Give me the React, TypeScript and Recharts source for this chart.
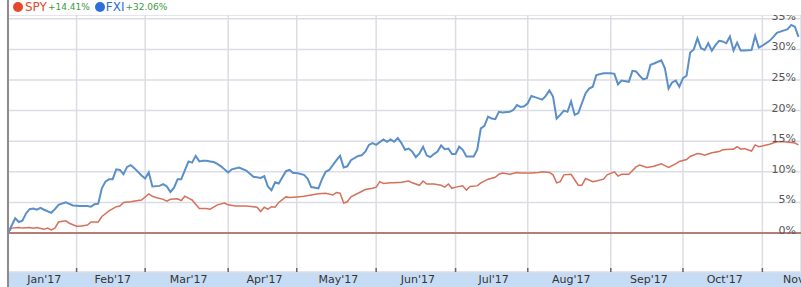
import React from 'react';
import { LineChart, Line, XAxis, YAxis, CartesianGrid, ReferenceLine } from 'recharts';

// x axis is trading days since Jan 3 2017
const monthLabels = ["Jan'17", "Feb'17", "Mar'17", "Apr'17", "May'17", "Jun'17", "Jul'17", "Aug'17", "Sep'17", "Oct'17", "Nov'17"];
const monthStarts = [0, 19, 38, 61, 80, 102, 124, 144, 167, 187, 209];
const monthDays = [19, 19, 23, 19, 22, 22, 20, 23, 20, 22, 21];
const pctTicks = [0, 5, 10, 15, 20, 25, 30, 35];

const fxiDays = [
  0, 2, 3, 4, 5, 6, 7, 8, 9, 10, 12, 13, 14, 16, 18, 20, 22, 23, 24, 25, 26, 27, 28, 29, 30, 31, 32, 33, 34, 35,
  37, 38, 39, 40, 42, 43, 44, 45, 46, 47, 48, 50, 51, 52, 53, 54, 55, 56, 57, 58, 59, 61, 62, 64, 66, 68, 70, 71,
  72, 73, 74, 75, 77, 78, 79, 80, 82, 83, 84, 86, 87, 88, 89, 91, 92, 93, 94, 95, 97, 98, 99, 100, 101, 102, 104,
  105, 106, 107, 108, 109, 110, 111, 112, 113, 114, 115, 116, 117, 118, 119, 120, 121, 122, 123, 124, 125, 126,
  127, 129, 130, 131, 132, 133, 134, 135, 136, 137, 139, 140, 141, 142, 143, 144, 145, 147, 148, 149, 150, 151,
  152, 153, 154, 155, 156, 157, 158, 159, 160, 161, 162, 163, 165, 167, 168, 169, 170, 172, 173, 174, 175, 176,
  177, 178, 179, 181, 182, 183, 184, 185, 186, 187, 188, 189, 190, 191, 192, 193, 194, 195, 196, 197, 198, 199,
  200, 201, 202, 203, 204, 206, 207, 208, 209, 211, 212, 213, 215, 216, 217, 218, 219,
];
const fxiPct = [
  0.0, 2.4, 1.8, 2.0, 3.2, 3.9, 4.0, 3.8, 4.1, 3.8, 3.3, 3.9, 4.6, 5.0, 4.5, 4.4, 4.4, 4.3, 4.7, 4.8, 7.3, 8.4, 8.8, 8.8, 10.4, 10.3, 9.6, 10.8, 11.1, 10.6,
  9.4, 8.9, 9.9, 7.6, 7.7, 8.0, 7.6, 6.7, 7.4, 8.8, 8.8, 11.7, 11.5, 12.6, 11.7, 11.8, 11.8, 11.7, 11.6, 11.3, 10.9, 9.9, 10.4, 10.7, 10.2, 9.2, 9.0, 9.3,
  7.6, 7.0, 8.3, 8.1, 10.1, 10.3, 9.8, 9.8, 9.5, 8.9, 7.5, 7.3, 8.8, 10.0, 10.3, 11.9, 12.6, 10.7, 10.9, 11.9, 12.6, 12.7, 13.3, 14.4, 14.7, 14.4, 15.3,
  14.9, 15.3, 14.9, 15.5, 14.7, 13.6, 13.8, 13.3, 12.4, 13.0, 14.1, 12.7, 12.4, 12.9, 13.3, 14.3, 13.7, 13.8, 12.9, 12.9, 14.1, 13.6,
  12.5, 12.5, 13.6, 17.1, 17.5, 19.0, 18.7, 18.6, 19.8, 19.7, 19.8, 20.1, 20.9, 20.6, 20.7, 21.2, 22.4, 22.0, 21.8, 22.4, 23.3, 22.3,
  18.7, 19.3, 20.0, 19.8, 21.5, 19.3, 19.6, 21.2, 22.8, 23.6, 23.9, 25.8, 26.1, 26.1, 26.0, 24.3, 24.9, 24.7, 26.5, 26.4, 25.7, 25.1,
  25.3, 27.5, 27.7, 28.2, 26.9, 23.6, 24.6, 24.9, 23.9, 25.3, 25.7, 29.5, 30.0, 31.8, 30.2, 29.9, 31.0, 29.8, 30.7, 31.4, 31.3, 31.0,
  32.1, 29.8, 31.1, 29.8, 29.8, 29.9, 32.2, 30.3, 30.6, 31.4, 32.0, 32.7, 33.1, 33.3, 34.0, 33.7, 32.06,
];

const spyDays = [
  0, 1, 3, 4, 6, 7, 8, 10, 11, 12, 13, 14, 16, 17, 19, 20, 22, 23, 25, 26, 28, 30, 31, 32, 34, 36, 37, 39, 40, 41,
  43, 44, 45, 47, 48, 49, 50, 51, 53, 55, 56, 58, 60, 61, 63, 64, 66, 68, 69, 70, 71, 72, 73, 74, 75, 77, 78, 80,
  82, 84, 86, 88, 90, 91, 92, 93, 94, 95, 97, 99, 101, 102, 103, 104, 106, 107, 109, 111, 112, 114, 115, 116, 118,
  120, 121, 122, 123, 124, 126, 127, 128, 130, 131, 133, 135, 136, 137, 139, 141, 142, 143, 145, 147, 148, 150,
  151, 152, 153, 154, 156, 157, 158, 159, 160, 162, 163, 165, 166, 168, 169, 170, 172, 174, 175, 176, 177, 179,
  180, 181, 182, 183, 185, 186, 188, 189, 191, 192, 193, 194, 195, 197, 198, 200, 201, 202, 203, 204, 206, 207,
  208, 209, 211, 213, 215, 217, 218, 219,
];
const spyPct = [
  0.0, 0.8, 0.9, 0.8, 0.9, 0.8, 0.9, 0.6, 0.8, 0.5, 0.8, 1.8, 2.0, 1.6, 1.1, 1.1, 1.3, 1.8, 1.8, 2.7, 3.6, 4.3, 4.4, 5.0, 5.1, 5.3, 5.4, 6.4, 6.0, 5.8,
  5.5, 5.2, 5.5, 5.6, 5.3, 6.0, 5.7, 5.4, 4.0, 4.0, 3.9, 4.6, 4.9, 4.6, 4.4, 4.4, 4.4, 4.3, 4.2, 3.5, 4.2, 3.9, 4.3, 4.2, 5.0, 5.9, 5.8, 5.9,
  6.0, 6.2, 6.4, 6.5, 6.2, 6.6, 6.5, 4.9, 5.1, 5.9, 6.5, 7.1, 7.3, 7.5, 8.4, 8.1, 8.2, 8.2, 8.3, 8.5, 8.2, 7.8, 8.5, 8.0, 8.0,
  7.8, 7.5, 8.0, 7.3, 7.5, 7.7, 7.0, 7.6, 7.7, 8.2, 8.8, 9.1, 9.6, 9.8, 9.6, 9.9, 9.8, 9.8, 9.8, 9.9, 10.0, 9.9,
  9.5, 8.2, 8.4, 9.5, 9.6, 8.7, 7.8, 7.8, 8.9, 8.4, 8.5, 8.8, 9.5, 10.0, 9.3, 9.6, 9.6, 10.8, 11.1, 10.9, 10.7, 10.9,
  11.1, 11.3, 11.0, 10.7, 11.3, 11.7, 12.0, 12.5, 13.0, 12.9, 12.7, 12.9, 13.1, 13.3, 13.6, 13.7, 13.7, 14.1, 13.7, 13.8, 13.4, 14.4,
  14.1, 14.2, 14.5, 14.9, 14.9, 14.8, 14.7, 14.41,
];

const fxiData = fxiDays.map((day, i) => ({ day, pct: fxiPct[i] }));
const spyData = spyDays.map((day, i) => ({ day, pct: spyPct[i] }));

const W = 801;
const H = 287;
const LEFT = 8;
const DAY_MAX = 219.7;
const pxPerDay = (W - LEFT) / DAY_MAX;
const FONT = '"DejaVu Sans", Verdana, sans-serif';

const MonthTick = (props: any) => {
  const { x, y, payload } = props;
  const idx = monthStarts.indexOf(payload.value);
  const mid = x + (monthDays[idx] * pxPerDay) / 2 + 2;
  return (
    <g>
      {payload.value > 0 && <line x1={x} x2={x} y1={y - 4} y2={y} stroke="#666" strokeWidth={1.5} />}
      <text x={mid} y={y + 11} textAnchor="middle" fontFamily={FONT} fontSize={11} fill="#333">
        {monthLabels[idx]}
      </text>
    </g>
  );
};

// labels sit right-aligned just inside the right edge, above their grid line
const PctTick = (props: any) => {
  const { y, payload } = props;
  return (
    <text x={W - 5} y={y + 1} textAnchor="end" fontFamily={FONT} fontSize={11} fill="#555">
      {payload.value}%
    </text>
  );
};

const Dot = ({ color }: { color: string }) => (
  <span style={{ display: 'inline-block', width: 10, height: 10, borderRadius: 5, background: color }} />
);

export default function App() {
  return (
    <div style={{ position: 'relative', width: W, height: H, background: '#fff', overflow: 'hidden' }}>
      <style>{'body{margin:0}'}</style>
      <div style={{ position: 'absolute', left: LEFT, top: 272, width: W - LEFT, height: 15, background: '#c6dbf4' }} />
      <div style={{ position: 'absolute', top: 0, left: 0 }}>
        <LineChart width={W} height={H} margin={{ top: 15, right: 0, bottom: 0, left: LEFT }}>
          <CartesianGrid stroke="#dcdde4" strokeWidth={1.5} />
          <XAxis
            type="number"
            dataKey="day"
            domain={[0, DAY_MAX]}
            ticks={monthStarts}
            interval={0}
            height={15}
            axisLine={false}
            tickLine={false}
            tickSize={0}
            tickMargin={0}
            tick={<MonthTick />}
            allowDataOverflow
          />
          <YAxis
            orientation="right"
            mirror
            width={40}
            domain={[-6.37, 35.62]}
            ticks={pctTicks}
            interval={0}
            axisLine={false}
            tickLine={false}
            tick={<PctTick />}
            allowDataOverflow
          />
          <ReferenceLine y={0} stroke="#a65a4e" strokeWidth={1.5} />
          <Line data={spyData} dataKey="pct" type="linear" stroke="#d6705a" strokeWidth={1.5} dot={false} isAnimationActive={false} />
          <Line data={fxiData} dataKey="pct" type="linear" stroke="#5b8fc9" strokeWidth={2} dot={false} isAnimationActive={false} />
        </LineChart>
      </div>
      <div style={{ position: 'absolute', left: 7, top: 0, width: 2, height: H, background: '#8c8c8c' }} />
      <div
        style={{
          position: 'absolute', left: 9, top: 0, width: W - 9, height: 15, paddingBottom: 2, boxSizing: 'border-box',
          background: '#fff', display: 'flex', alignItems: 'center', paddingLeft: 4, fontFamily: FONT, whiteSpace: 'nowrap',
        }}
      >
        <Dot color="#e8482a" />
        <span style={{ marginLeft: 2, fontSize: 12, color: '#e04a2c' }}>SPY</span>
        <span style={{ marginLeft: 1, fontSize: 9, color: '#3c9a3c' }}>+14.41%</span>
        <span style={{ marginLeft: 5 }} />
        <Dot color="#2c6fd8" />
        <span style={{ marginLeft: 1, fontSize: 12, color: '#2c6fd8' }}>FXI</span>
        <span style={{ marginLeft: 1, fontSize: 9, color: '#3c9a3c' }}>+32.06%</span>
      </div>
    </div>
  );
}
